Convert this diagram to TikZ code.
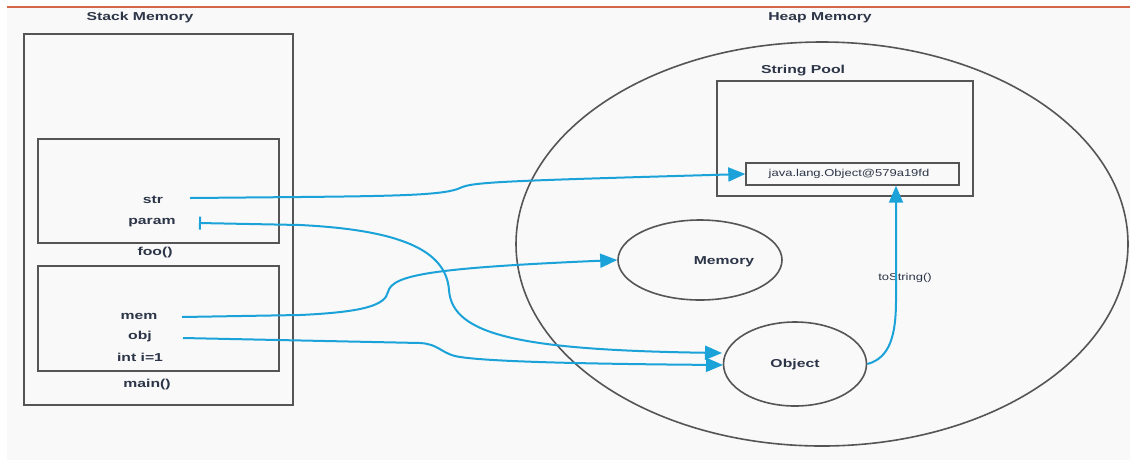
\documentclass[tikz,border=0pt]{standalone}
\usepackage{fontspec}
\usetikzlibrary{arrows.meta,shapes.geometric}
\newfontfamily\labb[FakeStretch=1.37]{Liberation Sans}
\newfontfamily\labr[FakeStretch=1.3]{Liberation Sans}
\definecolor{txt}{HTML}{2D3548}
\definecolor{edge}{HTML}{555555}
\definecolor{arr}{HTML}{1BA3D9}
\definecolor{bg}{HTML}{F8F9F8}
\definecolor{topline}{HTML}{D2674A}
\tikzset{
  boxline/.style={draw=edge,line width=1.6pt},
  lab/.style={inner sep=0pt,text=txt,font=\labb\bfseries\fontsize{11.5}{13}\selectfont},
  small/.style={inner sep=0pt,text=txt,font=\labr\fontsize{10}{12}\selectfont},
  ref/.style={draw=arr,line width=2pt,-{Triangle[length=17pt,width=14pt]}},
}
\begin{document}
\begin{tikzpicture}[x=1pt,y=-1pt]
\useasboundingbox (0,0) rectangle (1137,467);
\fill[white] (0,0) rectangle (1137,467);
\fill[bg] (7,7) rectangle (1130,460);
\draw[topline,line width=1.3pt] (7,7) -- (1130,7);

% stack
\node[lab] (stackT) at (140,18) {Stack Memory};
\node[boxline,minimum width=269pt,minimum height=371pt,inner sep=0pt] (stack) at (158.5,219.5) {};
\node[boxline,minimum width=241pt,minimum height=104pt,inner sep=0pt] (foo) at (158.5,191) {};
\node[boxline,minimum width=241pt,minimum height=105pt,inner sep=0pt] (mainb) at (158.5,318.5) {};
\node[lab] (str) at (153,200) {str};
\node[lab] (param) at (152,223) {param};
\node[lab] (fooT) at (155,253) {foo()};
\node[lab] (mem) at (139,316) {mem};
\node[lab] (obj) at (140,337) {obj};
\node[lab] (inti) at (140,357) {int i=1};
\node[lab] (mainT) at (147,385) {main()};

% heap
\node[lab] (heapT) at (820,18) {Heap Memory};
\node[ellipse,boxline,minimum width=612pt,minimum height=404pt,inner sep=0pt] (heap) at (822,244) {};
\node[lab] (poolT) at (803,71) {String Pool};
\node[boxline,minimum width=256pt,minimum height=115pt,inner sep=0pt] (pool) at (845,138.5) {};
\node[boxline,line width=1.4pt,minimum width=213pt,minimum height=22pt,inner sep=0pt] (strobj) at (852.5,174) {};
\node[small] (strobjT) at (849,174) {java.lang.Object@579a19fd};
\node[ellipse,boxline,minimum width=164pt,minimum height=80pt,inner sep=0pt] (memory) at (700,260) {};
\node[lab] (memoryT) at (724,262) {Memory};
\node[ellipse,boxline,minimum width=143pt,minimum height=84pt,inner sep=0pt] (object) at (795,364) {};
\node[lab] (objectT) at (795,365) {Object};
\node[small] (tostr) at (905,278) {toString()};

% connectors
\coordinate (strS) at (190,198);
\coordinate (paramS) at (199,223);
\coordinate (memS) at (182,317);
\coordinate (objS) at (183,338);
\coordinate (objIn1) at (722,353);
\coordinate (objIn2) at (723,365);

\draw[ref] (strS) -- (300,197) .. controls (400,196) and (445,195) .. (460,188)
  .. controls (472,182) and (500,181) .. (strobj.west);
\draw[ref,{Bar[width=13pt]}-{Triangle[length=17pt,width=14pt]}] (paramS) -- (300,225)
  .. controls (400,230) and (446,250) .. (449,290)
  .. controls (452,335) and (520,350) .. (objIn1);
\draw[ref] (memS) -- (300,315) .. controls (365,312) and (385,305) .. (388,292)
  .. controls (392,275) and (430,268) .. (memory.west);
\draw[ref] (objS) -- (420,343) .. controls (438,344) and (440,352) .. (455,356)
  .. controls (480,362) and (600,364) .. (objIn2);
\draw[ref] (object.east) .. controls (890,358) and (896,335) .. (896,300) -- (strobj.south -| 896,0);
\end{tikzpicture}
\end{document}
